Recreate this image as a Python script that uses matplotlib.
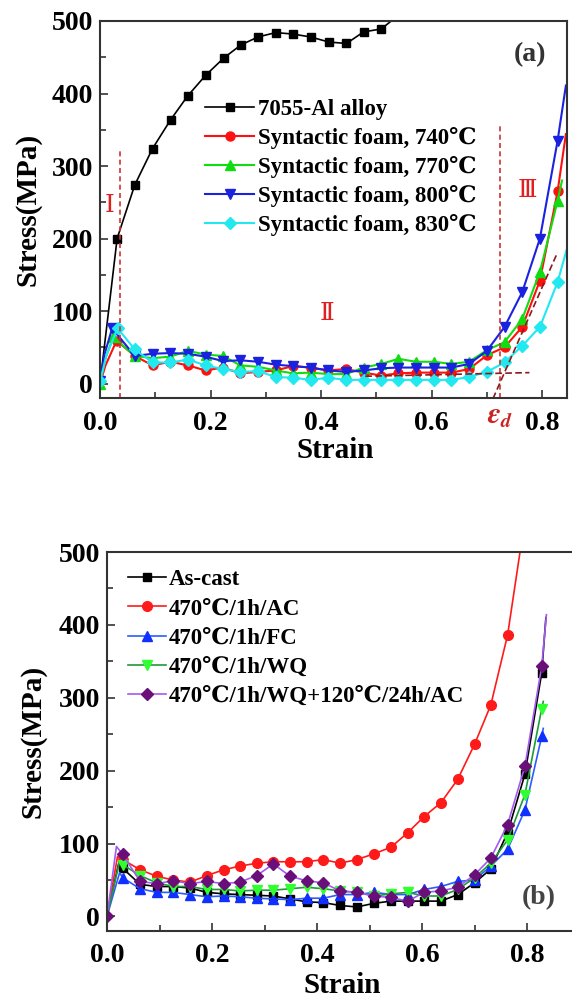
import matplotlib
matplotlib.use('Agg')
import matplotlib.pyplot as plt
from matplotlib.ticker import MultipleLocator

plt.rcParams['font.family'] = ['Liberation Serif', 'DejaVu Serif', 'DejaVu Sans']
plt.rcParams['font.weight'] = 'bold'
plt.rcParams['mathtext.fontset'] = 'stix'

# ---------------- data: panel (a) ----------------
alloy_strain = [0.0, 0.031, 0.063, 0.095, 0.128, 0.159, 0.191, 0.224, 0.255, 0.286,
                0.318, 0.349, 0.381, 0.414, 0.446, 0.477, 0.509, 0.535]
alloy_stress = [0, 200, 274, 324, 364, 397, 425, 449, 467, 478,
                484, 482, 478, 471, 469, 485, 489, 505]

foam740_strain = [0.0, 0.010, 0.030, 0.063, 0.095, 0.127, 0.159, 0.191, 0.222, 0.254, 0.286,
                  0.318, 0.349, 0.381, 0.413, 0.445, 0.477, 0.509, 0.540, 0.572, 0.604,
                  0.636, 0.668, 0.700, 0.732, 0.764, 0.796, 0.828, 0.843]
foam740_stress = [0, 25, 59, 38, 25, 30, 25, 18, 22, 14, 16,
                  18, 24, 22, 18, 20, 15, 11, 14, 15, 15,
                  15, 20, 39, 50, 78, 142, 265, 344]

foam770_strain = [0.0, 0.010, 0.024, 0.063, 0.095, 0.127, 0.159, 0.191, 0.222, 0.254, 0.286,
                  0.318, 0.349, 0.381, 0.413, 0.445, 0.477, 0.509, 0.540, 0.572, 0.604,
                  0.636, 0.668, 0.700, 0.732, 0.764, 0.796, 0.828, 0.836]
foam770_stress = [0, 35, 64, 38, 35, 37, 45, 40, 38, 25, 23,
                  18, 14, 15, 13, 13, 22, 27, 34, 30, 30,
                  27, 30, 46, 57, 89, 154, 252, 280]

foam800_strain = [0.0, 0.008, 0.022, 0.063, 0.095, 0.127, 0.159, 0.191, 0.222, 0.254, 0.286,
                  0.318, 0.349, 0.381, 0.413, 0.445, 0.477, 0.509, 0.540, 0.572, 0.604,
                  0.636, 0.668, 0.700, 0.732, 0.764, 0.796, 0.828, 0.843]
foam800_stress = [3, 40, 76, 38, 41, 42, 41, 37, 31, 32, 30,
                  26, 24, 22, 18, 16, 18, 21, 22, 22, 22,
                  22, 27, 45, 78, 126, 200, 335, 411]

foam830_strain = [0.0, 0.012, 0.032, 0.063, 0.095, 0.127, 0.159, 0.191, 0.222, 0.254, 0.286,
                  0.318, 0.349, 0.381, 0.413, 0.445, 0.477, 0.509, 0.540, 0.572, 0.604,
                  0.636, 0.668, 0.700, 0.732, 0.764, 0.796, 0.828, 0.852]
foam830_stress = [3, 40, 76, 47, 29, 29, 33, 25, 20, 16, 17,
                  9, 8, 5, 8, 5, 5, 5, 5, 5, 5,
                  5, 9, 16, 29, 52, 78, 140, 205]

labels_a = ['7055-Al alloy', 'Syntactic foam, 740\u2103', 'Syntactic foam, 770\u2103',
            'Syntactic foam, 800\u2103', 'Syntactic foam, 830\u2103']

# annotation guide lines (strain, stress)
guide_v1 = ([0.036, 0.036], [-20, 322])
guide_v2 = ([0.724, 0.724], [-20, 360])
guide_h = ([0.48, 0.777], [10, 15])
guide_t = ([0.711, 0.828], [-21, 181])

# ---------------- data: panel (b) ----------------
ascast_strain = [0.0, 0.022, 0.030, 0.063, 0.095, 0.126, 0.158, 0.190, 0.222, 0.253, 0.285,
                 0.317, 0.349, 0.380, 0.412, 0.444, 0.476, 0.509, 0.541, 0.573, 0.604,
                 0.636, 0.668, 0.700, 0.731, 0.763, 0.796, 0.828, 0.836]
ascast_stress = [0, 72, 66, 44, 41, 41, 39, 33, 31, 30, 29,
                 28, 24, 20, 19, 15, 13, 18, 21, 21, 21,
                 21, 30, 46, 65, 115, 195, 334, 410]

ac_strain = [0.0, 0.020, 0.030, 0.063, 0.095, 0.126, 0.158, 0.190, 0.222, 0.253, 0.285,
             0.317, 0.349, 0.380, 0.412, 0.444, 0.476, 0.509, 0.541, 0.573, 0.604,
             0.636, 0.668, 0.700, 0.731, 0.763, 0.795]
ac_stress = [0, 82, 78, 64, 55, 50, 47, 56, 64, 69, 73,
             75, 75, 75, 78, 73, 78, 86, 95, 115, 137,
             156, 188, 236, 290, 386, 540]

fc_strain = [0.0, 0.024, 0.030, 0.063, 0.095, 0.126, 0.158, 0.190, 0.222, 0.253, 0.285,
             0.317, 0.349, 0.380, 0.412, 0.444, 0.476, 0.509, 0.541, 0.573, 0.604,
             0.636, 0.668, 0.700, 0.731, 0.763, 0.796, 0.828, 0.831]
fc_stress = [0, 60, 53, 38, 33, 33, 30, 27, 28, 27, 25,
             24, 23, 25, 25, 30, 30, 33, 30, 30, 37,
             41, 48, 50, 69, 92, 146, 247, 258]

wq_strain = [0.0, 0.024, 0.030, 0.063, 0.095, 0.126, 0.158, 0.190, 0.222, 0.253, 0.285,
             0.317, 0.349, 0.380, 0.412, 0.444, 0.476, 0.509, 0.541, 0.573, 0.604,
             0.636, 0.668, 0.700, 0.731, 0.763, 0.796, 0.828, 0.831]
wq_stress = [0, 76, 71, 56, 46, 41, 41, 37, 37, 35, 36,
             36, 38, 40, 38, 35, 33, 28, 31, 33, 28,
             28, 37, 53, 73, 105, 167, 285, 295]

wqa_strain = [0.0, 0.018, 0.030, 0.063, 0.095, 0.126, 0.158, 0.190, 0.222, 0.253, 0.285,
              0.317, 0.349, 0.380, 0.412, 0.444, 0.476, 0.509, 0.541, 0.573, 0.604,
              0.636, 0.668, 0.700, 0.731, 0.763, 0.796, 0.828, 0.837]
wqa_stress = [0, 96, 85, 48, 45, 49, 45, 48, 45, 47, 56,
              72, 55, 49, 46, 35, 33, 28, 26, 21, 33,
              35, 40, 57, 80, 126, 206, 343, 414]

labels_b = ['As-cast', '470\u2103/1h/AC', '470\u2103/1h/FC', '470\u2103/1h/WQ',
            '470\u2103/1h/WQ+120\u2103/24h/AC']

# ---------------- figure ----------------
fig = plt.figure(figsize=(5.72, 9.98), dpi=100)
ax1 = fig.add_axes([100/572, 1-398/998, 467/572, 377/998])
ax2 = fig.add_axes([107/572, 1-931/998, 472.5/572, 379/998])

for ax in (ax1, ax2):
    for sp in ax.spines.values():
        sp.set_linewidth(1.5)
        sp.set_color('#333333')
    ax.xaxis.set_major_locator(MultipleLocator(0.2))
    ax.xaxis.set_minor_locator(MultipleLocator(0.1))
    ax.yaxis.set_major_locator(MultipleLocator(100))
    ax.yaxis.set_minor_locator(MultipleLocator(50))
    ax.tick_params(which='both', direction='in', width=1.2, colors='#333333',
                   labelcolor='black')
    ax.tick_params(which='major', length=6, labelsize=20)
    ax.tick_params(which='minor', length=4)
    ax.tick_params(axis='x', pad=9)
    ax.tick_params(axis='y', pad=5)
    ax.set_ylim(-20, 500)
    for lab in ax.get_xticklabels() + ax.get_yticklabels():
        lab.set_fontweight('bold')

ax1.set_xlim(0, 0.845)
ax2.set_xlim(0, 0.9)
ax2.spines['right'].set_visible(False)

def mk(n, first=2, origin=True):
    idx = list(range(first, n - 1))
    return ([0] if origin else []) + idx

lw = 1.5
ax1.plot(alloy_strain, alloy_stress, color='black', lw=1.2, marker='s', ms=6,
         markevery=list(range(1, len(alloy_strain) - 1)), label=labels_a[0])
ax1.plot(foam740_strain, foam740_stress, color='#ff1010', lw=lw, marker='o', ms=6.5,
         markevery=mk(len(foam740_strain), origin=False), label=labels_a[1])
ax1.plot(foam770_strain, foam770_stress, color='#10dd10', lw=lw, marker='^', ms=7.5,
         markevery=mk(len(foam770_strain)), label=labels_a[2])
ax1.plot(foam800_strain, foam800_stress, color='#1a22e0', lw=lw, marker='v', ms=7.5,
         markevery=mk(len(foam800_strain)), label=labels_a[3])
ax1.plot(foam830_strain, foam830_stress, color='#22e8f0', lw=lw, marker='D', ms=6,
         markevery=mk(len(foam830_strain)), label=labels_a[4])

gl = dict(color='#cc3333', lw=1.2, ls=(0, (3, 2)))
ax1.plot(*guide_v1, **gl)
ax1.plot(*guide_v2, **gl)
gd = dict(color='#8b1a1a', lw=1.2, ls=(0, (4, 2)))
ax1.plot(*guide_h, **gd)
ax1.plot(*guide_t, **gd)

rn = dict(color='#e02020', fontsize=18, fontweight='normal', ha='center', va='center',
          family=['DejaVu Serif', 'DejaVu Sans'])
ax1.text(0.018, 245, '\u2160', **rn)
ax1.text(0.41, 97, '\u2161', **rn)
ax1.text(0.773, 266, '\u2162', **rn)
ax1.text(0.724, -0.05, r'$\varepsilon_d$', transform=ax1.get_xaxis_transform(),
         color='#cc2222', fontsize=21, ha='center', va='center')
ax1.text(0.92, 0.91, '(a)', transform=ax1.transAxes, fontsize=20, fontweight='bold',
         ha='center', va='center', color='#333333')

leg1 = ax1.legend(loc='upper left', bbox_to_anchor=(0.225, 0.793), frameon=False,
                  fontsize=16.5, handlelength=2.15, handletextpad=0.15, labelspacing=0.31,
                  borderpad=0, borderaxespad=0, numpoints=1)
for t in leg1.get_texts():
    t.set_fontweight('bold')

ax2.plot(ascast_strain, ascast_stress, color='black', lw=1.2, marker='s', ms=6,
         markevery=mk(len(ascast_strain), origin=False), label=labels_b[0])
ax2.plot(ac_strain, ac_stress, color='#ff1a1a', lw=1.2, marker='o', ms=7,
         markevery=mk(len(ac_strain), origin=False), label=labels_b[1])
ax2.plot(fc_strain, fc_stress, color='#2a5cff', lw=1.2, marker='^', ms=7,
         markerfacecolor='#1030ff', markeredgecolor='#1030ff',
         markevery=mk(len(fc_strain), origin=False), label=labels_b[2])
ax2.plot(wq_strain, wq_stress, color='#1f9a3a', lw=1.2, marker='v', ms=7,
         markerfacecolor='#30ff30', markeredgecolor='#30ff30',
         markevery=mk(len(wq_strain), origin=False), label=labels_b[3])
ax2.plot(wqa_strain, wqa_stress, color='#a45af0', lw=1.2, marker='D', ms=6,
         markerfacecolor='#6a0f7a', markeredgecolor='#6a0f7a',
         markevery=mk(len(wqa_strain), origin=True), label=labels_b[4])

ax2.text((539-107)/472.5, (931-898)/379, '(b)', transform=ax2.transAxes, fontsize=20,
         fontweight='bold', ha='center', va='center', color='#444444')

leg2 = ax2.legend(loc='upper left', bbox_to_anchor=(0.044, 0.955), frameon=False,
                  fontsize=16.5, handlelength=1.65, handletextpad=0.15, labelspacing=0.36,
                  borderpad=0, borderaxespad=0, numpoints=1)
for t in leg2.get_texts():
    t.set_fontweight('bold')

ax1.set_xlabel('Strain', fontsize=21, fontweight='bold')
ax1.set_ylabel('Stress(MPa)', fontsize=21, fontweight='bold')
ax2.set_xlabel('Strain', fontsize=21, fontweight='bold')
ax2.set_ylabel('Stress(MPa)', fontsize=21, fontweight='bold')
ax1.xaxis.label.set_va('center')
ax2.xaxis.label.set_va('center')
ax1.yaxis.label.set_va('center')
ax2.yaxis.label.set_va('center')
ax1.xaxis.set_label_coords(0.503, -0.138)
ax1.yaxis.set_label_coords((28-100)/467, 0.5)
ax2.xaxis.set_label_coords(0.497, -0.1425)
ax2.yaxis.set_label_coords((33-107)/472.5, 0.5)

fig.savefig('out.png', dpi=100)
